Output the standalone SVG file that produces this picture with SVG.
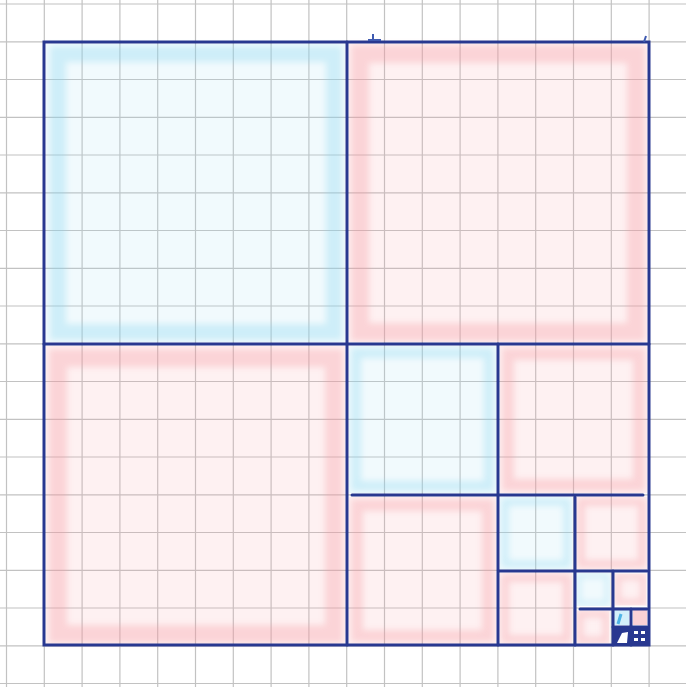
<svg xmlns="http://www.w3.org/2000/svg" width="686" height="687" viewBox="0 0 686 687">
<defs>
<filter id="soft" x="-10%" y="-10%" width="120%" height="120%"><feGaussianBlur stdDeviation="3"/></filter>
<style>
.grid line{stroke:#c2c2c2;stroke-width:1.2}
.bf{fill:#a8e0f5;fill-opacity:0.16}
.rf{fill:#f7a8b1;fill-opacity:0.16}
.bb{fill:none;stroke:#86d2f1;stroke-opacity:0.32;filter:url(#soft)}
.rb{fill:none;stroke:#f595a0;stroke-opacity:0.32;filter:url(#soft)}
.bs{stroke:#5bbce9;stroke-opacity:0.5;fill:none;filter:url(#soft)}
.rs{stroke:#f16d7d;stroke-opacity:0.45;fill:none;filter:url(#soft)}
.ink{stroke:#283890;stroke-width:3;fill:none;stroke-linecap:round}
</style>
</defs>
<rect width="686" height="687" fill="#ffffff"/>
<g class="grid">
<line x1="6.5" y1="0" x2="6.5" y2="687"/><line x1="44.3" y1="0" x2="44.3" y2="687"/><line x1="82.1" y1="0" x2="82.1" y2="687"/><line x1="119.9" y1="0" x2="119.9" y2="687"/><line x1="157.7" y1="0" x2="157.7" y2="687"/><line x1="195.5" y1="0" x2="195.5" y2="687"/><line x1="233.3" y1="0" x2="233.3" y2="687"/><line x1="271.1" y1="0" x2="271.1" y2="687"/><line x1="308.9" y1="0" x2="308.9" y2="687"/><line x1="346.7" y1="0" x2="346.7" y2="687"/><line x1="384.5" y1="0" x2="384.5" y2="687"/><line x1="422.3" y1="0" x2="422.3" y2="687"/><line x1="460.1" y1="0" x2="460.1" y2="687"/><line x1="497.9" y1="0" x2="497.9" y2="687"/><line x1="535.7" y1="0" x2="535.7" y2="687"/><line x1="573.5" y1="0" x2="573.5" y2="687"/><line x1="611.3" y1="0" x2="611.3" y2="687"/><line x1="649.1" y1="0" x2="649.1" y2="687"/>
<line x1="0" y1="4" x2="686" y2="4"/><line x1="0" y1="41.8" x2="686" y2="41.8"/><line x1="0" y1="79.5" x2="686" y2="79.5"/><line x1="0" y1="117.3" x2="686" y2="117.3"/><line x1="0" y1="155" x2="686" y2="155"/><line x1="0" y1="192.8" x2="686" y2="192.8"/><line x1="0" y1="230.5" x2="686" y2="230.5"/><line x1="0" y1="268.3" x2="686" y2="268.3"/><line x1="0" y1="306" x2="686" y2="306"/><line x1="0" y1="343.8" x2="686" y2="343.8"/><line x1="0" y1="381.5" x2="686" y2="381.5"/><line x1="0" y1="419.3" x2="686" y2="419.3"/><line x1="0" y1="457" x2="686" y2="457"/><line x1="0" y1="494.8" x2="686" y2="494.8"/><line x1="0" y1="532.5" x2="686" y2="532.5"/><line x1="0" y1="570.3" x2="686" y2="570.3"/><line x1="0" y1="608" x2="686" y2="608"/><line x1="0" y1="645.8" x2="686" y2="645.8"/><line x1="0" y1="683.5" x2="686" y2="683.5"/>
</g>
<g id="sq-A">
<rect class="bf" x="46" y="44" width="299" height="298"/>
<rect class="bb" x="58" y="54" width="276" height="278" stroke-width="16"/>
<line class="bs" x1="70" y1="52" x2="335" y2="52" stroke-width="10"/>
<line class="bs" x1="64" y1="55" x2="64" y2="150" stroke-width="10"/>
<line class="bs" x1="150" y1="333" x2="335" y2="333" stroke-width="10"/>
</g>
<g id="sq-B">
<rect class="rf" x="349" y="44" width="298" height="298"/>
<rect class="rb" x="360" y="54" width="276" height="278" stroke-width="18"/>
<line class="rs" x1="370" y1="330" x2="640" y2="330" stroke-width="14"/>
<line class="rs" x1="630" y1="60" x2="630" y2="330" stroke-width="10"/>
</g>
<g id="sq-C">
<rect class="rf" x="46" y="346" width="299" height="298"/>
<rect class="rb" x="58" y="358" width="276" height="276" stroke-width="18"/>
<line class="rs" x1="56" y1="632" x2="335" y2="632" stroke-width="14"/>
<line class="rs" x1="56" y1="360" x2="56" y2="632" stroke-width="10"/>
<line class="rs" x1="90" y1="352" x2="330" y2="352" stroke-width="8"/>
</g>
<g id="sq-D1">
<rect class="bf" x="349" y="346" width="147" height="147"/>
<rect class="bb" x="356" y="353" width="133" height="133" stroke-width="10"/>
<line class="bs" x1="360" y1="486" x2="470" y2="486" stroke-width="6"/>
</g>
<g id="sq-D2">
<rect class="rf" x="500" y="346" width="147" height="147"/>
<rect class="rb" x="508" y="354" width="131" height="131" stroke-width="12"/>
</g>
<g id="sq-D3">
<rect class="rf" x="349" y="497" width="147" height="147"/>
<rect class="rb" x="357" y="505" width="131" height="131" stroke-width="12"/>
<line class="rs" x1="360" y1="636" x2="490" y2="636" stroke-width="8"/>
</g>
<g id="sq-E1">
<rect class="bf" x="500" y="497" width="72" height="72"/>
<rect class="bb" x="505" y="502" width="62" height="62" stroke-width="7"/>
<line class="bs" x1="511" y1="505" x2="511" y2="555" stroke-width="4"/>
</g>
<g id="sq-E2">
<rect class="rf" x="576" y="497" width="71" height="72"/>
<rect class="rb" x="581" y="502" width="61" height="62" stroke-width="8"/>
</g>
<g id="sq-E3">
<rect class="rf" x="500" y="573" width="72" height="71"/>
<rect class="rb" x="505" y="578" width="62" height="61" stroke-width="8"/>
</g>
<g id="sq-F1">
<rect class="bf" x="576" y="573" width="34" height="33"/>
<rect class="bb" x="579" y="576" width="28" height="27" stroke-width="4"/>
</g>
<g id="sq-F2">
<rect class="rf" x="614" y="573" width="33" height="33"/>
<rect class="rb" x="618" y="577" width="25" height="25" stroke-width="6"/>
</g>
<g id="sq-F3">
<rect class="rf" x="576" y="610" width="34" height="34" fill-opacity="0.4"/>
<rect class="rb" x="580" y="614" width="26" height="26" stroke-width="7"/>
</g>
<g id="sq-G1">
<rect x="614" y="610" width="15" height="15" fill="#b6e4f6" fill-opacity="0.6"/>
<line x1="618" y1="624" x2="621" y2="614" stroke="#4fb3e6" stroke-width="3"/>
</g>
<g id="sq-G2">
<rect x="633" y="610" width="14" height="15" fill="#f7a3ad" fill-opacity="0.5"/>
</g>
<g id="sq-G3">
<rect x="612" y="627" width="37" height="19" fill="#283890"/>
<path d="M617 643 L622 633 L628 632 L627 643 Z" fill="#ffffff"/>
<rect x="634" y="631" width="4" height="3" fill="#ffffff"/>
<rect x="641" y="631" width="4" height="3" fill="#ffffff"/>
<rect x="634" y="638" width="4" height="3" fill="#ffffff"/>
<rect x="641" y="638" width="4" height="3" fill="#ffffff"/>
</g>
<g id="lines">
<rect class="ink" x="44" y="42" width="605" height="603"/>
<line class="ink" x1="347" y1="42" x2="347" y2="645"/>
<line class="ink" x1="44" y1="344" x2="649" y2="344"/>
<line class="ink" x1="498" y1="344" x2="498" y2="645"/>
<line class="ink" x1="352" y1="495" x2="643" y2="495"/>
<line class="ink" x1="575" y1="497" x2="575" y2="645"/>
<line class="ink" x1="499" y1="571" x2="647" y2="571"/>
<line class="ink" x1="613" y1="571" x2="613" y2="645"/>
<line class="ink" x1="580" y1="609" x2="647" y2="609"/>
<line class="ink" x1="631" y1="609" x2="631" y2="645"/>
<line class="ink" x1="613" y1="627" x2="647" y2="627"/>
<path d="M368 40 L372 40 M373 34 L373 40 L381 40" stroke="#3f5ab0" stroke-width="2" fill="none"/>
<path d="M644 42 L646 36" stroke="#3f5ab0" stroke-width="2" fill="none"/>
</g>
</svg>
